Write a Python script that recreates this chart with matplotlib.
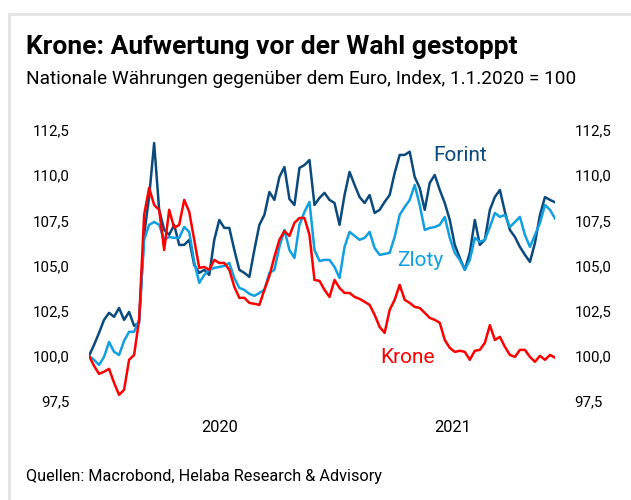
import numpy as np
import pandas as pd
import matplotlib
matplotlib.use('Agg')
import matplotlib.pyplot as plt
import matplotlib.dates as mdates
from matplotlib.ticker import FuncFormatter, FixedLocator
from matplotlib.patches import Rectangle

plt.rcParams['font.family'] = ['Roboto', 'DejaVu Sans']

# Weekly observations, index 1.1.2020 = 100
dates = pd.date_range('2020-01-01', periods=94, freq='7D')

forint = [100.0, 100.6, 101.27, 101.99, 102.38, 102.16, 102.65, 101.99, 102.43, 101.66,
          101.83, 106.7, 108.8, 111.78, 108.08, 106.97, 106.7, 107.25, 106.14, 106.14,
          106.42, 105.03, 104.59, 104.76, 104.48, 106.42, 107.52, 107.08, 107.08, 105.86,
          104.76, 104.59, 104.37, 105.86, 107.25, 107.8, 109.07, 108.63, 109.9, 110.45,
          108.68, 108.35, 110.4, 110.56, 110.84, 108.35, 108.74, 109.02, 108.63, 108.46,
          107.25, 108.9, 110.18, 109.46, 108.79, 108.46, 108.9, 107.91, 108.08, 108.52,
          108.9, 110.12, 111.12, 111.12, 111.3, 109.9, 109.29, 108.08, 109.57, 110.01,
          109.18, 108.46, 107.52, 106.14, 105.42, 104.76, 105.7, 107.52, 106.14, 106.42,
          108.08, 108.79, 109.18, 107.97, 106.97, 106.58, 106.03, 105.59, 105.2, 106.25,
          107.8, 108.79, 108.63, 108.5]

zloty = [100.0, 99.78, 99.5, 99.94, 100.77, 100.22, 100.05, 100.83, 101.33, 101.33,
         101.99, 106.42, 107.25, 107.41, 107.25, 106.42, 106.58, 106.53, 106.53, 107.13,
         106.86, 105.2, 104.04, 104.48, 104.76, 104.87, 104.92, 104.98, 105.14, 104.31,
         103.76, 103.65, 103.43, 103.32, 103.48, 103.65, 104.59, 104.76, 106.03, 106.97,
         105.86, 105.42, 107.25, 107.97, 108.52, 105.86, 105.25, 105.31, 105.31, 104.92,
         104.31, 106.03, 106.86, 106.64, 106.42, 106.53, 106.86, 105.97, 105.59, 105.64,
         105.7, 106.58, 107.8, 108.24, 108.63, 109.46, 108.35, 106.97, 107.08, 107.13,
         107.25, 107.69, 106.53, 105.7, 105.31, 104.76, 105.31, 106.53, 106.31, 106.42,
         107.13, 107.91, 107.69, 107.8, 107.13, 107.41, 107.69, 106.69, 106.03, 106.69,
         107.36, 108.35, 108.08, 107.6]

krone = [100.0, 99.45, 99.0, 99.12, 99.28, 98.51, 97.84, 98.12, 99.78, 100.05,
         101.99, 107.8, 109.3, 108.35, 108.08, 105.86, 108.08, 107.08, 107.25, 108.63,
         107.97, 106.42, 104.87, 104.92, 104.76, 105.31, 105.14, 105.14, 104.76, 103.82,
         103.21, 103.21, 102.93, 102.88, 102.82, 103.65, 104.42, 105.48, 106.42, 106.91,
         106.64, 107.36, 107.63, 107.63, 106.69, 104.2, 104.15, 103.65, 103.26, 104.2,
         103.76, 103.48, 103.48, 103.26, 103.15, 102.99, 102.82, 102.27, 101.6, 101.27,
         102.54, 103.1, 103.93, 103.1, 102.93, 102.71, 102.65, 102.38, 102.1, 101.99,
         101.83, 100.88, 100.44, 100.22, 100.28, 100.22, 99.78, 100.28, 100.33, 100.72,
         101.7, 100.88, 101.05, 100.5, 100.05, 99.94, 100.33, 100.33, 99.94, 99.67,
         100.0, 99.78, 100.05, 99.9]

series = ['Forint', 'Zloty', 'Krone']
colors = ['#0b4a7c', '#109fe0', '#ff0000']
year_labels = ['2020', '2021']
y_ticks = [97.5, 100.0, 102.5, 105.0, 107.5, 110.0, 112.5]

fig = plt.figure(figsize=(6.31, 5.0), dpi=100)

# light grey frame of the source box
fig.patches.append(Rectangle((9 / 631, -0.1), 1.2, 1.1 - 14 / 500, transform=fig.transFigure,
                             fill=False, edgecolor='#e3e3e3', linewidth=2))

ax = fig.add_axes([89 / 631, 99 / 500, 466 / 631, 271 / 500])

for vals, c in zip([forint, zloty, krone], colors):
    ax.plot(dates, vals, color=c, linewidth=1.8, solid_joinstyle='round')

ax.set_xlim(dates[0], dates[-1])
ax.set_ylim(97.5, 112.5)

for s in ax.spines.values():
    s.set_visible(False)

fmt = FuncFormatter(lambda v, p: f'{v:.1f}'.replace('.', ','))
ax.yaxis.set_major_locator(FixedLocator(y_ticks))
ax.yaxis.set_major_formatter(fmt)
ax.tick_params(axis='y', length=0, labelsize=10.8, pad=14, labelright=True, labelleft=True)

# year labels centred on the visible part of each year
starts = [pd.Timestamp('2020-01-01'), pd.Timestamp('2021-01-01')]
ends = [pd.Timestamp('2021-01-01'), dates[-1]]
centers = [mdates.date2num(a + (b - a) / 2) for a, b in zip(starts, ends)]
ax.xaxis.set_major_locator(FixedLocator(centers))
ax.set_xticklabels(year_labels)
ax.tick_params(axis='x', length=0, labelsize=11.8, pad=14)

# series labels
ax.text(0.738, 0.905, 'Forint', color=colors[0], fontsize=15, va='center', transform=ax.transAxes)
ax.text(0.661, 0.517, 'Zloty', color=colors[1], fontsize=15, va='center', transform=ax.transAxes)
ax.text(0.625, 0.159, 'Krone', color=colors[2], fontsize=15, va='center', transform=ax.transAxes)

fig.text(26 / 631, 1 - 47 / 500, 'Krone: Aufwertung vor der Wahl gestoppt',
         fontsize=19, fontweight='bold', va='center', ha='left')
fig.text(26 / 631, 1 - 79 / 500, 'Nationale Währungen gegenüber dem Euro, Index, 1.1.2020 = 100',
         fontsize=13.7, va='center', ha='left')
fig.text(26 / 631, 1 - 476 / 500, 'Quellen: Macrobond, Helaba Research & Advisory',
         fontsize=11.7, va='center', ha='left')

fig.savefig('out.png', dpi=100)
